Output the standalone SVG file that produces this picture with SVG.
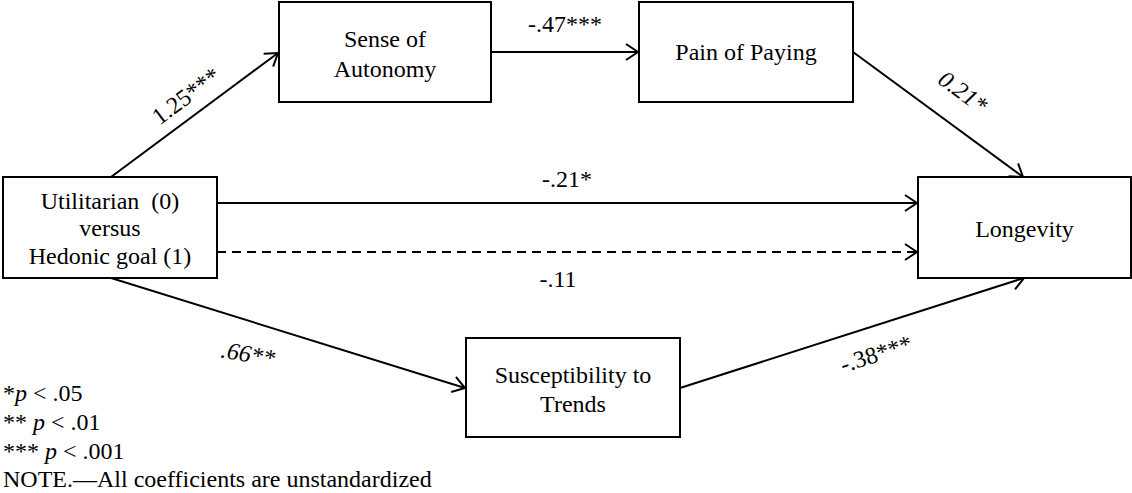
<svg xmlns="http://www.w3.org/2000/svg" width="1132" height="493" viewBox="0 0 1132 493" font-family="'Liberation Serif', 'DejaVu Serif', serif">
<defs>
<style>
text{font-family:"Liberation Serif","DejaVu Serif",serif;font-size:24px;fill:#000}
.box{fill:#fff;stroke:#000;stroke-width:2}
.lbl{text-anchor:middle}
.conn{stroke:#000;stroke-width:2;fill:none;marker-end:url(#arr)}
.dash{stroke-dasharray:9 6}
.it{font-style:italic}
</style>
<marker id="arr" viewBox="0 0 14 18" refX="13" refY="9" markerWidth="14" markerHeight="18" markerUnits="userSpaceOnUse" orient="auto">
<path d="M1,1 L13,9 L1,17" fill="none" stroke="#000" stroke-width="2" stroke-dasharray="none"/>
</marker>
</defs>
<rect width="1132" height="493" fill="#fff"/>
<g id="connectors">
<line class="conn" x1="111" y1="177" x2="278" y2="53"/>
<line class="conn" x1="491" y1="52" x2="638" y2="52"/>
<line class="conn" x1="853" y1="52" x2="1023" y2="177"/>
<line class="conn" x1="217" y1="203" x2="917" y2="203"/>
<line class="conn dash" x1="217" y1="252" x2="917" y2="252"/>
<line class="conn" x1="111" y1="278" x2="465" y2="388"/>
<line class="conn" x1="680" y1="388" x2="1024" y2="278"/>
<text class="lbl" transform="translate(186,96) rotate(-36.6)" y="8">1.25***</text>
<text class="lbl" x="565" y="32">-.47***</text>
<text class="lbl it" transform="translate(963,92) rotate(36.3)" y="8">0.21*</text>
<text class="lbl" x="567" y="187">-.21*</text>
<text class="lbl" x="558" y="287">-.11</text>
<text class="lbl it" transform="translate(248,354) rotate(10)" y="8">.66**</text>
<text class="lbl" transform="translate(876,354) rotate(-17.6)" y="8">-.38***</text>
</g>
<g id="node-utilitarian">
<rect class="box" x="3" y="177" width="214" height="101"/>
<text class="lbl" x="110" y="209">Utilitarian&#160; (0)</text>
<text class="lbl" x="110" y="236">versus</text>
<text class="lbl" x="110" y="264">Hedonic goal (1)</text>
</g>
<g id="node-autonomy">
<rect class="box" x="279" y="2" width="212" height="100"/>
<text class="lbl" x="385" y="47">Sense of</text>
<text class="lbl" x="385" y="77">Autonomy</text>
</g>
<g id="node-pain">
<rect class="box" x="639" y="2" width="214" height="100"/>
<text class="lbl" x="746" y="60">Pain of Paying</text>
</g>
<g id="node-longevity">
<rect class="box" x="918" y="177" width="213" height="101"/>
<text class="lbl" x="1024.5" y="237">Longevity</text>
</g>
<g id="node-susceptibility">
<rect class="box" x="466" y="338" width="214" height="99"/>
<text class="lbl" x="573" y="383">Susceptibility to</text>
<text class="lbl" x="573" y="412">Trends</text>
</g>
<g id="legend">
<text x="3" y="401">*<tspan class="it">p</tspan> &lt; .05</text>
<text x="3" y="430">** <tspan class="it">p</tspan> &lt; .01</text>
<text x="3" y="459">*** <tspan class="it">p</tspan> &lt; .001</text>
<text x="3" y="487">NOTE.—All coefficients are unstandardized</text>
</g>
</svg>
